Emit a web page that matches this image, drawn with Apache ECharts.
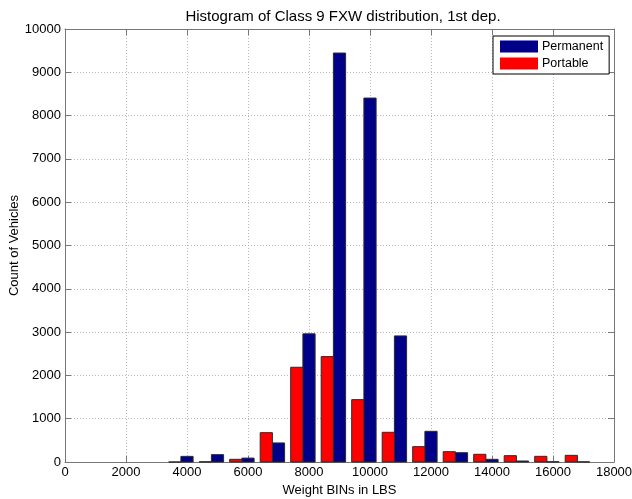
<!DOCTYPE html>
<html>
<head>
<meta charset="utf-8">
<script src="https://cdn.jsdelivr.net/npm/echarts@6/dist/echarts.min.js"></script>
<style>
html,body{margin:0;padding:0;background:#fff;}
#chart{width:632px;height:499px;}
</style>
</head>
<body>
<div id="chart"></div>
<script>
// Bin group centres (LBS) and counts per bin
var binCenters = [3800, 4800, 5800, 6800, 7800, 8800, 9800, 10800, 11800, 12800, 13800, 14800, 15800, 16800];
var permanent  = [130, 170, 90, 440, 2960, 9445, 8405, 2912, 709, 215, 62, 23, 5, 3];
var portable   = [0, 5, 62, 677, 2188, 2434, 1440, 686, 354, 238, 178, 146, 131, 154];
var seriesNames = ['Permanent', 'Portable'];
var xTicks = [0, 2000, 4000, 6000, 8000, 10000, 12000, 14000, 16000, 18000];
var yTicks = [0, 1000, 2000, 3000, 4000, 5000, 6000, 7000, 8000, 9000, 10000];

var BAR_W = 400;        // each bar is 400 LBS wide
var FONT = 'Liberation Sans, Arial, sans-serif';

function barData(offset, values) {
  return binCenters.map(function (c, i) { return [c + offset, values[i]]; });
}

function renderBar(params, api) {
  var x = api.value(0), y = api.value(1);
  var p0 = api.coord([x - BAR_W / 2, y]);
  var p1 = api.coord([x + BAR_W / 2, 0]);
  return {
    type: 'rect',
    shape: { x: p0[0], y: p0[1], width: p1[0] - p0[0], height: p1[1] - p0[1] },
    style: { fill: api.visual('color'), stroke: '#2a2a2a', lineWidth: 1 }
  };
}

function plain(v) { return String(v); }

var axisLineStyle = { show: true, onZero: false, lineStyle: { color: '#777', width: 1 } };
var tickStyle = { show: true, inside: true, length: 6, lineStyle: { color: '#777' } };
var gridLine = { show: true, lineStyle: { color: '#b8b8b8', type: [1, 2], width: 1 } };

var chart = echarts.init(document.getElementById('chart'), null, { renderer: 'canvas' });
chart.setOption({
  animation: false,
  backgroundColor: '#fff',
  title: {
    text: 'Histogram of Class 9 FXW distribution, 1st dep.',
    left: 338, textAlign: 'center', top: 4,
    textStyle: { fontFamily: FONT, fontSize: 15, fontWeight: 'normal', color: '#000' }
  },
  legend: {
    orient: 'vertical',
    left: 493, top: 36,
    padding: [4, 6, 4, 7],
    itemGap: 4,
    itemWidth: 38, itemHeight: 12,
    backgroundColor: '#fff',
    borderColor: '#000', borderWidth: 1, borderRadius: 0,
    textStyle: { fontFamily: FONT, fontSize: 12.5, color: '#000', padding: [0, 0, 0, -1] },
    data: [
      { name: seriesNames[0], icon: 'rect' },
      { name: seriesNames[1], icon: 'rect' }
    ]
  },
  grid: { left: 65, right: 18, top: 29, bottom: 37, outerBoundsMode: 'none', containLabel: false },
  xAxis: [{
    type: 'value', min: xTicks[0], max: xTicks[xTicks.length - 1], interval: 2000,
    name: 'Weight BINs in LBS', nameLocation: 'middle', nameGap: 22,
    nameTextStyle: { fontFamily: FONT, fontSize: 13, color: '#000' },
    axisLine: axisLineStyle, axisTick: tickStyle,
    axisLabel: { fontFamily: FONT, fontSize: 13, color: '#000', margin: 4, formatter: plain, hideOverlap: false },
    splitLine: gridLine
  }, {
    type: 'value', position: 'top', min: xTicks[0], max: xTicks[xTicks.length - 1], interval: 2000,
    axisLine: axisLineStyle, axisTick: tickStyle, axisLabel: { show: false }, splitLine: { show: false }
  }],
  yAxis: [{
    type: 'value', min: yTicks[0], max: yTicks[yTicks.length - 1], interval: 1000,
    name: 'Count of Vehicles', nameLocation: 'middle', nameGap: 44, nameRotate: 90,
    nameMoveOverlap: false,
    nameTextStyle: { fontFamily: FONT, fontSize: 13, color: '#000' },
    axisLine: axisLineStyle, axisTick: tickStyle,
    axisLabel: { fontFamily: FONT, fontSize: 13, color: '#000', margin: 4, formatter: plain },
    splitLine: gridLine
  }, {
    type: 'value', position: 'right', min: yTicks[0], max: yTicks[yTicks.length - 1], interval: 1000,
    axisLine: axisLineStyle, axisTick: tickStyle, axisLabel: { show: false }, splitLine: { show: false }
  }],
  series: [{
    name: seriesNames[0], type: 'custom', renderItem: renderBar,
    itemStyle: { color: '#000088' },
    encode: { x: 0, y: 1 },
    data: barData(BAR_W / 2, permanent), z: 3
  }, {
    name: seriesNames[1], type: 'custom', renderItem: renderBar,
    itemStyle: { color: '#ff0000' },
    encode: { x: 0, y: 1 },
    data: barData(-BAR_W / 2, portable), z: 3
  }]
});
</script>
</body>
</html>
